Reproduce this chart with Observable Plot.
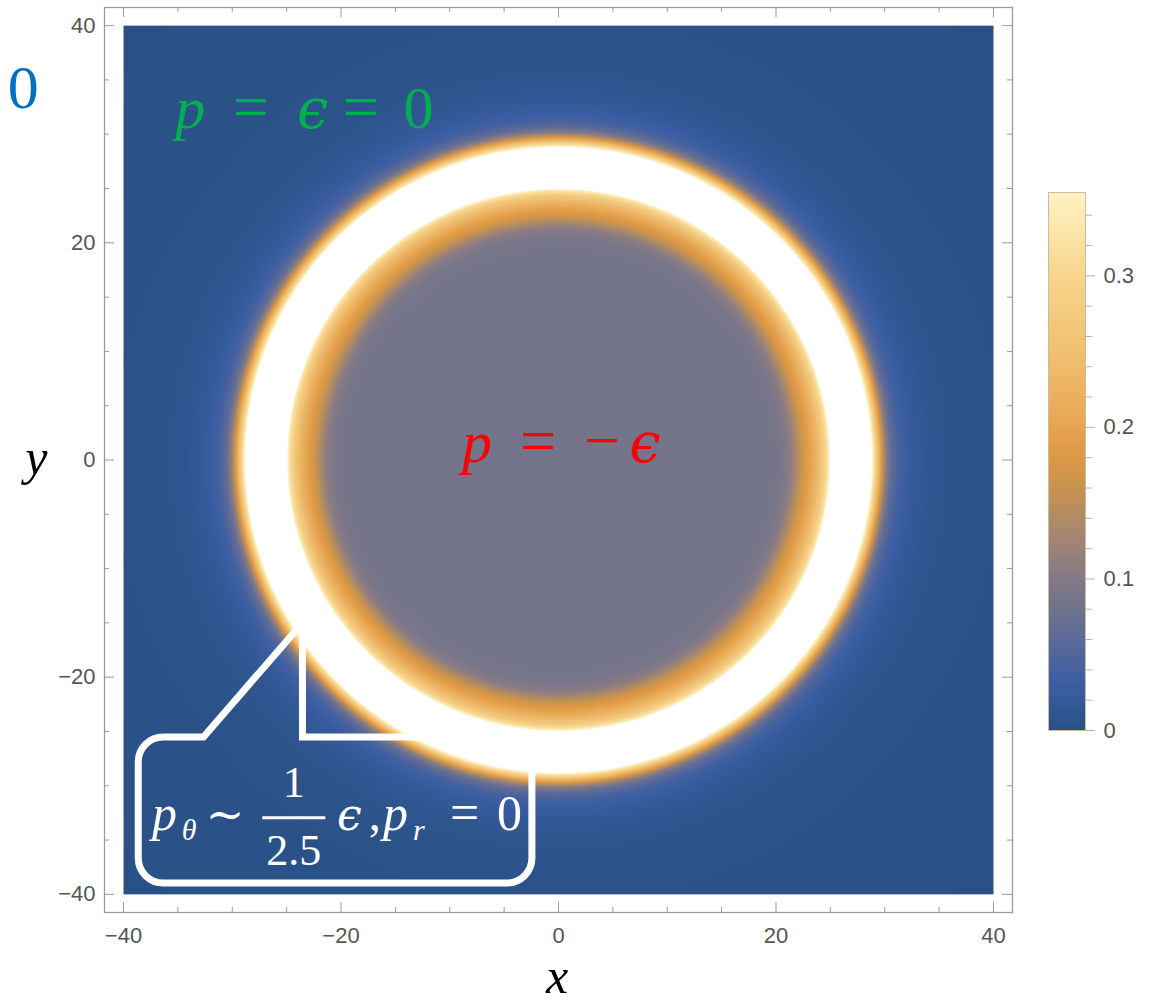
<!DOCTYPE html>
<html>
<head>
<meta charset="utf-8">
<script src="https://cdn.jsdelivr.net/npm/d3@7"></script>
<script src="https://cdn.jsdelivr.net/npm/@observablehq/plot@0.6"></script>
<style>
  html, body { margin: 0; padding: 0; background: #ffffff; }
  #wrap { position: relative; width: 1150px; height: 1003px; overflow: hidden; background: #ffffff; }
  #main { position: absolute; left: 0; top: 0; }
  #cbar { position: absolute; left: 1040px; top: 182px; }
</style>
</head>
<body>
<div id="wrap"><div id="main"></div><div id="cbar"></div></div>
<script>
// ---- Data ----
// radial profile of the plotted field (radius in plot units, value)
const radii  = [0,     19,    20.5,  21.3,  21.9,  22.5,  23.1,  23.7,  24.3,  24.8,  25.3,  28.5,  28.9,  29.3,  29.7,  30.1,  30.6,  31.3,  32.5,  34.5,  38,    60];
const values = [0.085, 0.085, 0.09,  0.105, 0.135, 0.17,  0.195, 0.225, 0.27,  0.33,  0.45,  0.45,  0.35,  0.26,  0.18,  0.11,  0.065, 0.038, 0.022, 0.011, 0.004, 0];

// colour gradient (value -> colour), as seen on the colour bar
const colorStops  = [0,         0.03,      0.06,      0.085,     0.1,       0.13,      0.16,      0.185,     0.21,      0.25,      0.3,       0.355,     0.37];
const colorValues = ["#295185", "#3b5ea3", "#5c6a98", "#74748a", "#847a86", "#a6876f", "#c8934f", "#e09a45", "#e9ab58", "#f0c072", "#f7d58c", "#fff2c4", "#ffffff"];

const xMajor = [-40, -20, 0, 20, 40];
const xMinor = [-35, -30, -25, -15, -10, -5, 5, 10, 15, 25, 30, 35];
const yMajor = [-40, -20, 0, 20, 40];
const yMinor = [-35, -30, -25, -15, -10, -5, 5, 10, 15, 25, 30, 35];
const barMajor = [0, 0.1, 0.2, 0.3];
const barMinor = [0.02, 0.04, 0.06, 0.08, 0.12, 0.14, 0.16, 0.18, 0.22, 0.24, 0.26, 0.28, 0.32, 0.34];
const barMax = 0.355;

// ---- helpers ----
function profile(r) {
  const n = radii.length;
  if (r >= radii[n - 1]) return values[n - 1];
  const i = Math.max(0, d3.bisectRight(radii, r) - 1);
  const t = (r - radii[i]) / (radii[i + 1] - radii[i]);
  return values[i] + t * (values[i + 1] - values[i]);
}
const fmt = d => d < 0 ? "\u2212" + (-d) : String(d);

// ---- layout ----
const W = 1150, H = 1003, mL = 104, mR = 138, mT = 7, mB = 91;
const fw = W - mL - mR, fh = H - mT - mB;
const frameColor = "#9a9a9a", labelColor = "#555555";
const colorScale = {type: "linear", domain: colorStops, range: colorValues, clamp: true};
const sansFont = "'Liberation Sans', Arial, sans-serif";
const serifFont = "'Liberation Serif', 'DejaVu Serif', serif";
const epsFont = "'DejaVu Serif', serif";

const main = Plot.plot({
  width: W, height: H,
  marginLeft: mL, marginRight: mR, marginTop: mT, marginBottom: mB,
  x: {domain: [-41.75, 41.75]},
  y: {domain: [-41.67, 41.67]},
  color: colorScale,
  style: {background: "transparent", fontFamily: sansFont, overflow: "visible"},
  marks: [
    Plot.raster({fill: (x, y) => profile(Math.hypot(x, y)), x1: -40, x2: 40, y1: -40, y2: 40, pixelSize: 1}),
    Plot.frame({stroke: frameColor, strokeWidth: 1.3}),
    Plot.ruleX(xMajor, {x: d => d, insetTop: fh - 10, stroke: frameColor}),
    Plot.ruleX(xMinor, {x: d => d, insetTop: fh - 5, stroke: frameColor}),
    Plot.ruleX(xMajor, {x: d => d, insetBottom: fh - 10, stroke: frameColor}),
    Plot.ruleX(xMinor, {x: d => d, insetBottom: fh - 5, stroke: frameColor}),
    Plot.ruleY(yMajor, {y: d => d, insetRight: fw - 10, stroke: frameColor}),
    Plot.ruleY(yMinor, {y: d => d, insetRight: fw - 5, stroke: frameColor}),
    Plot.ruleY(yMajor, {y: d => d, insetLeft: fw - 10, stroke: frameColor}),
    Plot.ruleY(yMinor, {y: d => d, insetLeft: fw - 5, stroke: frameColor}),
    Plot.axisX({ticks: xMajor, tickSize: 0, tickPadding: 15, fontSize: 22, color: labelColor, tickFormat: fmt, label: null}),
    Plot.axisY({ticks: yMajor, tickSize: 0, tickPadding: 9, fontSize: 22, color: labelColor, tickFormat: fmt, label: null})
  ]
});
document.getElementById("main").appendChild(main);

// ---- annotations ----
const sx = main.scale("x"), sy = main.scale("y");
const svg = d3.select(main);
function put(t, x, y, fill, size, italic, anchor, family) {
  svg.append("text")
    .attr("x", sx.apply(x)).attr("y", sy.apply(y))
    .attr("font-family", family || serifFont).attr("font-size", size)
    .attr("font-style", italic ? "italic" : "normal")
    .attr("text-anchor", anchor || "start")
    .attr("fill", fill).text(t);
}

// blue "0" (left top)
put("0", -50.6, 32.37, "#0070c0", 62, false);
// axis titles
put("y", -49.0, -1.34, "#000000", 50, true);
put("x", -1.1, -49.1, "#000000", 50, true);

// green label: p = ϵ = 0
const greenY = 30.52;
put("p", -35.2, greenY, "#00b050", 60, true);
put("=", -29.9, greenY, "#00b050", 64, false);
put("\u03F5", -24.0, greenY, "#00b050", 56, true, "start", epsFont);
put("=", -19.8, greenY, "#00b050", 64, false);
put("0", -14.2, greenY, "#00b050", 60, false);

// red label: p = −ϵ
const redY = -0.23;
put("p", -8.83, redY, "#ff0000", 60, true);
put("=", -3.49, redY, "#ff0000", 64, false);
put("\u2212", 2.40, redY, "#ff0000", 64, false);
put("\u03F5", 6.55, redY, "#ff0000", 56, true, "start", epsFont);

// callout box
const cb = {xL: -38.6, xR: -2.4, yT: -25.55, yB: -39.0, baseL: -32.6, baseR: -23.5, tipX: -23.5, tipY: -15.05};
{
  const L = sx.apply(cb.xL), R = sx.apply(cb.xR), T = sy.apply(cb.yT), B = sy.apply(cb.yB);
  const bl = sx.apply(cb.baseL), br = sx.apply(cb.baseR), tx = sx.apply(cb.tipX), ty = sy.apply(cb.tipY);
  const rr = 25;
  const p = d3.path();
  p.moveTo(bl, T);
  p.lineTo(tx, ty);
  p.lineTo(br, T);
  p.lineTo(R - rr, T);
  p.arcTo(R, T, R, T + rr, rr);
  p.lineTo(R, B - rr);
  p.arcTo(R, B, R - rr, B, rr);
  p.lineTo(L + rr, B);
  p.arcTo(L, B, L, B - rr, rr);
  p.lineTo(L, T + rr);
  p.arcTo(L, T, L + rr, T, rr);
  p.closePath();
  svg.append("path").attr("d", p.toString())
    .attr("fill", "none").attr("stroke", "#ffffff").attr("stroke-width", 7)
    .attr("stroke-linejoin", "miter").attr("stroke-miterlimit", 10);
  // fraction bar
  svg.append("line")
    .attr("x1", sx.apply(-27.2)).attr("x2", sx.apply(-21.4))
    .attr("y1", sy.apply(-33.0)).attr("y2", sy.apply(-33.0))
    .attr("stroke", "#ffffff").attr("stroke-width", 3);
}
const cY = -34.12, subY = -35.04;
put("p", -37.33, cY, "#ffffff", 50, true);
put("\u03B8", -34.6, subY, "#ffffff", 30, true);
put("\u223C", -32.4, cY, "#ffffff", 46, false, "start", epsFont);
put("1", -24.3, -31.08, "#ffffff", 44, false, "middle");
put("2.5", -24.3, -37.35, "#ffffff", 44, false, "middle");
put("\u03F5", -20.32, cY, "#ffffff", 44, true, "start", epsFont);
put(",", -17.4, cY, "#ffffff", 48, false);
put("p", -16.09, cY, "#ffffff", 50, true);
put("r", -13.33, subY, "#ffffff", 30, true);
put("=", -9.93, cY, "#ffffff", 52, false);
put("0", -5.61, cY, "#ffffff", 50, false);

// ---- colour bar ----
const bar = Plot.plot({
  width: 110, height: 558,
  marginLeft: 8, marginRight: 65, marginTop: 10, marginBottom: 10,
  x: {domain: [0, 1], axis: null},
  y: {domain: [0, barMax], axis: null},
  color: colorScale,
  style: {background: "transparent", fontFamily: sansFont, overflow: "visible"},
  marks: [
    Plot.raster({fill: (x, y) => y, x1: 0, x2: 1, y1: 0, y2: barMax, pixelSize: 1}),
    Plot.frame({stroke: "#c9bca0", strokeWidth: 1}),
    Plot.ruleY(barMajor, {y: d => d, x1: 1, x2: 1.27, stroke: "#b5b5b5"}),
    Plot.ruleY(barMinor, {y: d => d, x1: 1, x2: 1.2, stroke: "#b5b5b5"}),
    Plot.axisY({anchor: "right", ticks: barMajor, tickSize: 0, tickPadding: 18, fontSize: 22, color: labelColor,
      tickFormat: d => d === 0 ? "0" : d.toFixed(1), label: null})
  ]
});
document.getElementById("cbar").appendChild(bar);
</script>
</body>
</html>
